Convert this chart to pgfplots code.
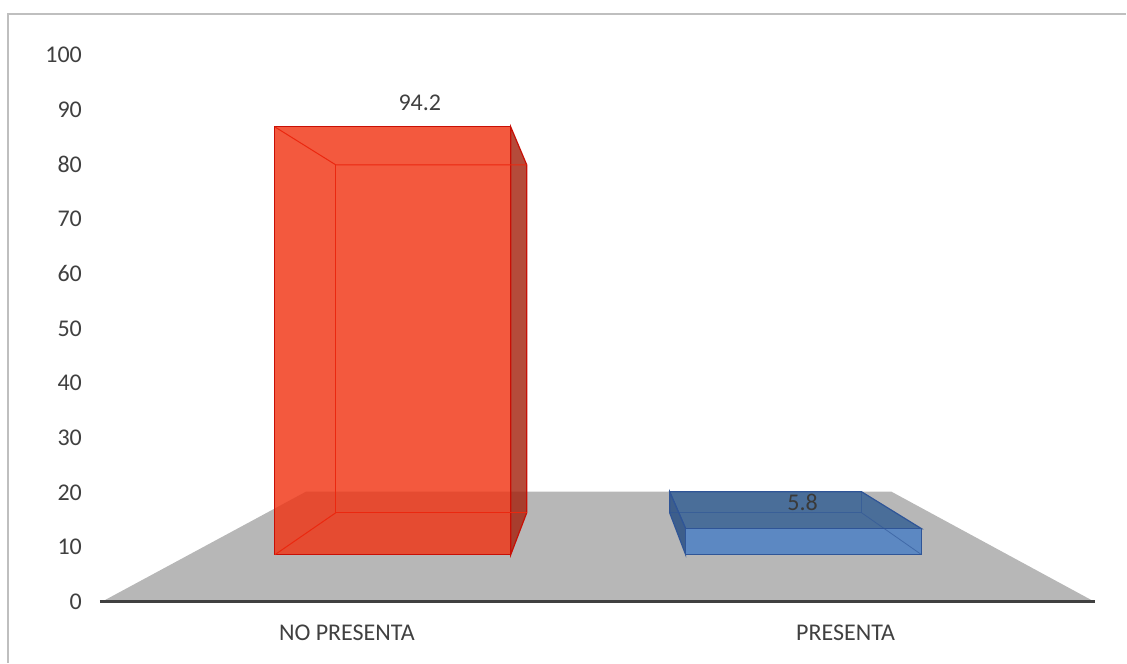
\documentclass[border=0pt]{standalone}
\usepackage{pgfplots}
\pgfplotsset{compat=1.18}
\usepackage{fontspec}
\setmainfont{Carlito}
\definecolor{txt}{HTML}{404040}
\definecolor{floorc}{HTML}{B7B7B7}
\definecolor{redfill}{RGB}{240,52,20}
\definecolor{redside}{RGB}{165,35,15}
\definecolor{rededge}{RGB}{200,15,5}
\definecolor{redinner}{RGB}{235,40,15}
\definecolor{bluetop}{HTML}{4A6E99}
\definecolor{bluefront}{HTML}{5C88C2}
\definecolor{blueside}{HTML}{3D5E8B}
\definecolor{blueedge}{HTML}{2F5597}
\definecolor{framec}{HTML}{BFBFBF}
\begin{document}
\begin{tikzpicture}
\begin{axis}[
  width=519pt, height=331.5pt, scale only axis,
  xmin=89, xmax=1127, ymin=-11.15, ymax=110.05,
  axis line style={draw=none},
  major tick length=0pt,
  xtick=\empty,
  ytick={0,10,...,100},
  yticklabel style={font=\fontsize{12}{14}\selectfont, text=txt},
  /pgf/number format/assume math mode=true,
  clip=false,
]
% full picture area
\path (axis cs:0,-11.15) rectangle (axis cs:1127,110.05);
% chart frame
\addplot[draw=framec, line width=0.6pt] coordinates {(8,-11.15) (8,107.5) (1127,107.5)};
% floor
\addplot[fill=floorc, draw=none] coordinates {(102,0) (1095,0) (892,20.11) (306,20.11)} -- cycle;
% axis line
\addplot[draw=txt, line width=1.5pt] coordinates {(100,0) (1096,0)};

% ---- NO PRESENTA (94.2) ----
% front face
\addplot[fill=redfill, fill opacity=0.82, draw=rededge, line width=0.6pt] coordinates {(275,8.59) (511,8.59) (511,86.84) (275,86.84)} -- cycle;
% right side face
\addplot[fill=redside, fill opacity=0.82, draw=rededge, line width=0.6pt] coordinates {(511,86.84) (527,79.89) (527,16.27) (511,8.59)} -- cycle;
% hidden edges (transparent)
\addplot[draw=redinner, line width=0.5pt] coordinates {(275,86.84) (336,79.89) (527,79.89)};
\addplot[draw=redinner, line width=0.5pt] coordinates {(336,79.89) (336,16.27) (527,16.27)};
\addplot[draw=redinner, line width=0.5pt] coordinates {(275,8.59) (336,16.27)};
\node[font=\fontsize{12}{14}\selectfont, text=txt] at (axis cs:420,91.2) {94.2};

% ---- PRESENTA (5.8) ----
\addplot[fill=bluetop, draw=blueedge, line width=0.6pt] coordinates {(670,20.11) (862,20.11) (922,13.35) (686,13.35)} -- cycle;
\addplot[fill=blueside, draw=blueedge, line width=0.6pt] coordinates {(670,20.11) (686,13.35) (686,8.6) (670,16.27)} -- cycle;
\addplot[fill=bluefront, draw=blueedge, line width=0.6pt] coordinates {(686,13.35) (922,13.35) (922,8.6) (686,8.6)} -- cycle;
\addplot[draw=blueedge, line width=0.4pt, opacity=0.6] coordinates {(670,16.27) (862,16.27) (862,20.11)};
\addplot[draw=blueedge, line width=0.4pt, opacity=0.6] coordinates {(862,16.27) (922,8.6)};
\node[font=\fontsize{12}{14}\selectfont, text=txt!90!black] at (axis cs:803,18.1) {5.8};

% category labels
\node[font=\fontsize{12}{14}\selectfont, text=txt] at (axis cs:347,-5.67) {NO PRESENTA};
\node[font=\fontsize{12}{14}\selectfont, text=txt] at (axis cs:846,-5.67) {PRESENTA};
\end{axis}
\end{tikzpicture}
\end{document}
